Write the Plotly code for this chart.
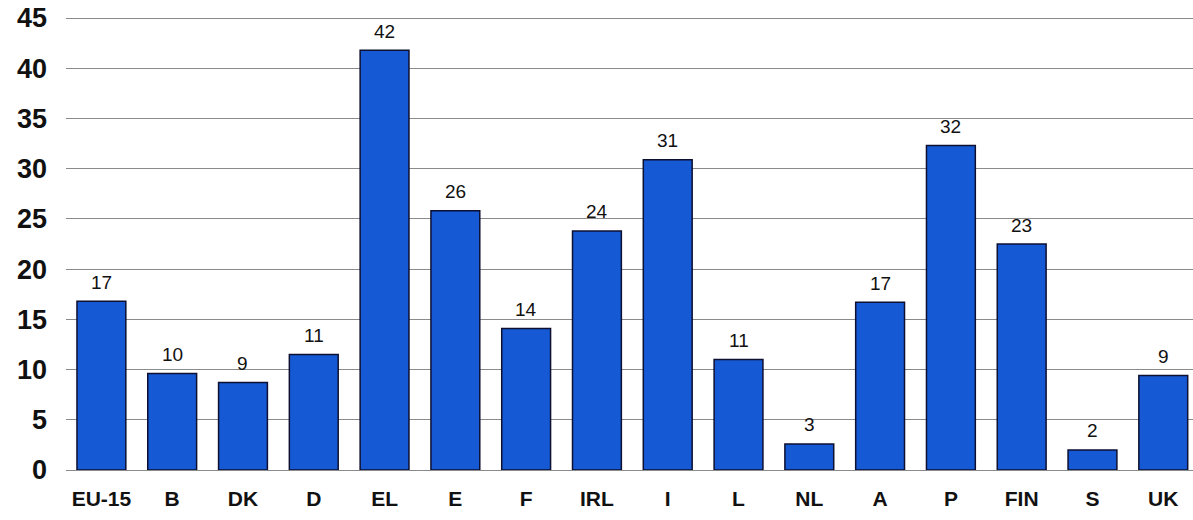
import plotly.graph_objects as go

# countries and share values
countries = ["EU-15", "B", "DK", "D", "EL", "E", "F", "IRL", "I", "L", "NL", "A", "P", "FIN", "S", "UK"]
values = [16.8, 9.6, 8.7, 11.5, 41.8, 25.8, 14.1, 23.8, 30.9, 11.0, 2.6, 16.7, 32.3, 22.5, 2.0, 9.4]
labels = ["17", "10", "9", "11", "42", "26", "14", "24", "31", "11", "3", "17", "32", "23", "2", "9"]
y_ticks = [0, 5, 10, 15, 20, 25, 30, 35, 40, 45]

FONT = "Liberation Sans, Arial, sans-serif"

fig = go.Figure()

fig.add_trace(go.Bar(
    x=countries,
    y=values,
    marker=dict(color="#1659d4", line=dict(color="#0d1030", width=1.5)),
    width=0.69,
))

# value labels sit a little above each bar
for c, v, t in zip(countries, values, labels):
    fig.add_annotation(
        x=c, y=v, text=t,
        showarrow=False,
        yanchor="middle",
        yshift=19,
        font=dict(family=FONT, size=19, color="#111111"),
    )

fig.update_layout(
    width=1193,
    height=520,
    margin=dict(l=66, r=0, t=15, b=50, autoexpand=False),
    plot_bgcolor="white",
    paper_bgcolor="white",
    showlegend=False,
    font=dict(family=FONT, color="#111111"),
)

fig.update_xaxes(
    range=[-0.5, 15.42],
    showgrid=False,
    showline=False,
    automargin=False,
    tickfont=dict(size=21, family=FONT, weight="bold"),
    ticklabelstandoff=14,
)

fig.update_yaxes(
    range=[0, 45.3],
    tickvals=y_ticks,
    showgrid=True,
    gridcolor="#8a8a8a",
    gridwidth=1,
    zeroline=True,
    zerolinecolor="#8a8a8a",
    zerolinewidth=1,
    automargin=False,
    ticklabeloverflow="allow",
    tickfont=dict(size=27, family=FONT, weight="bold"),
    ticklabelstandoff=18,
)

# drop the default body margin so the figure fills the window exactly
fig.write_html(
    "out.html",
    config={"displayModeBar": False},
    post_script="document.body.style.margin='0';",
)
